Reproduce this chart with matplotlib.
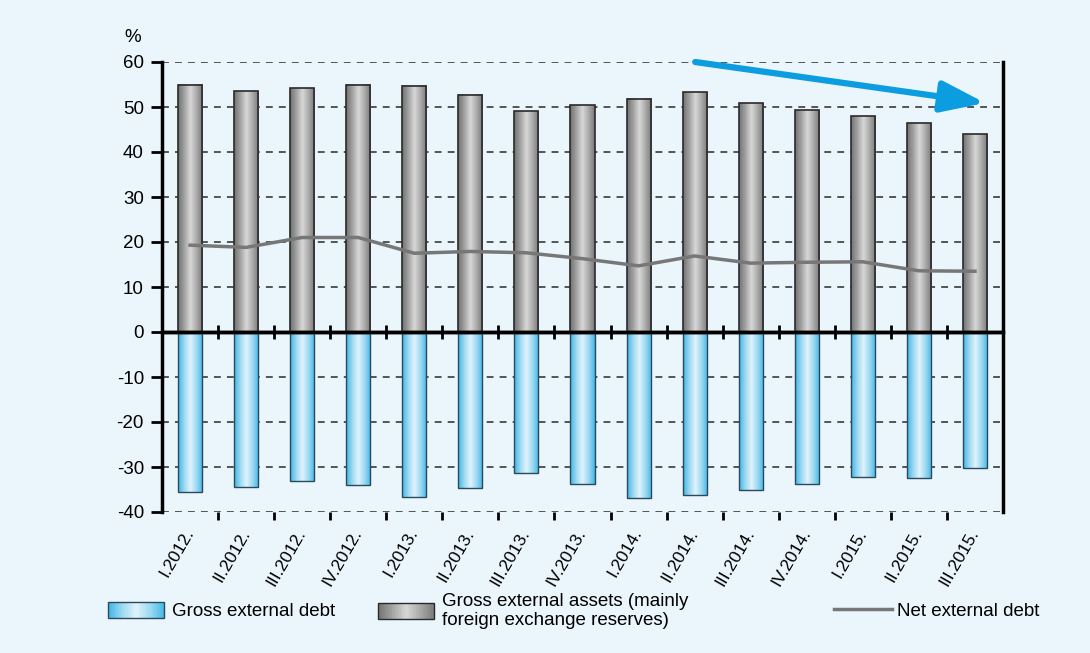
import numpy as np
import matplotlib
matplotlib.use("Agg")
import matplotlib.pyplot as plt
from matplotlib.colors import LinearSegmentedColormap
from matplotlib.legend_handler import HandlerBase
from matplotlib.patches import Rectangle
from matplotlib.lines import Line2D
from matplotlib import font_manager

categories = ["I.2012.", "II.2012.", "III.2012.", "IV.2012.",
              "I.2013.", "II.2013.", "III.2013.", "IV.2013.",
              "I.2014.", "II.2014.", "III.2014.", "IV.2014.",
              "I.2015.", "II.2015.", "III.2015."]
gross_assets = [54.9, 53.5, 54.2, 55.0, 54.7, 52.7, 49.1, 50.4,
                51.8, 53.3, 50.8, 49.3, 48.0, 46.4, 43.9]
gross_debt = [-35.5, -34.4, -33.1, -34.0, -36.7, -34.7, -31.3, -33.8,
              -36.9, -36.2, -35.1, -33.8, -32.2, -32.4, -30.2]
net_debt = [19.3, 18.8, 21.0, 21.0, 17.5, 17.9, 17.6, 16.3,
            14.7, 16.9, 15.3, 15.5, 15.6, 13.6, 13.5]
yticks = [-40, -30, -20, -10, 0, 10, 20, 30, 40, 50, 60]

names = {f.name for f in font_manager.fontManager.ttflist}
narrow = 'Liberation Sans Narrow' if 'Liberation Sans Narrow' in names else 'Liberation Sans'
plt.rcParams['font.family'] = ['Liberation Sans', 'DejaVu Sans']

BG = '#eaf5fc'
gray_cmap = LinearSegmentedColormap.from_list('g', ['#727272', '#a2a2a2', '#d8d8d8', '#aaaaaa', '#7a7a7a'])
blue_cmap = LinearSegmentedColormap.from_list('b', ['#3db5e6', '#9dd9f2', '#e0f3fc', '#9dd9f2', '#45b9e8'])

fig = plt.figure(figsize=(10.9, 6.53), dpi=100, facecolor=BG)
ax = fig.add_axes([162/1090, 1-512/653, (1003-162)/1090, (512-62)/653])
ax.set_facecolor(BG)

x = np.arange(len(categories))
w = 0.43
grad = np.linspace(0, 1, 64).reshape(1, -1)
for xi, a, d in zip(x, gross_assets, gross_debt):
    ax.imshow(grad, extent=[xi - w/2, xi + w/2, 0, a], aspect='auto', cmap=gray_cmap, zorder=2)
    ax.imshow(grad, extent=[xi - w/2, xi + w/2, d, 0], aspect='auto', cmap=blue_cmap, zorder=2)
ax.bar(x, gross_assets, width=w, facecolor='none', edgecolor='#2a2a2a', linewidth=1.2, zorder=3)
ax.bar(x, gross_debt, width=w, facecolor='none', edgecolor='#2a4a5a', linewidth=1.0, zorder=3)
ax.plot(x, net_debt, color='#777777', linewidth=2.5, zorder=4)

ax.set_xlim(-0.5, len(categories) - 0.5)
ax.set_ylim(-40, 60)
ax.set_yticks(yticks)
ax.set_yticklabels([str(v) for v in yticks], fontsize=13.5)
for v in yticks:
    if v != 0:
        ax.axhline(v, color='#2a2a2a', linewidth=1.1, dashes=(4.5, 4), zorder=1)
ax.axhline(0, color='black', linewidth=2.5, zorder=5)

ax.spines['top'].set_visible(False)
ax.spines['left'].set_linewidth(2.5)
ax.spines['right'].set_linewidth(2.5)
ax.spines['bottom'].set_position(('data', 0))
ax.spines['bottom'].set_linewidth(2.5)
ax.tick_params(axis='y', direction='out', length=8, width=2, pad=5)
bounds = np.arange(len(categories) + 1) - 0.5
ax.set_xticks(bounds[1:-1])
ax.set_xticklabels([])
ax.tick_params(axis='x', direction='inout', length=10, width=2)

sec = ax.secondary_xaxis(0)
sec.spines['bottom'].set_visible(False)
sec.set_xticks(bounds[1:-1])
sec.set_xticklabels([])
sec.tick_params(axis='x', which='major', direction='out', length=6, width=2)
sec.set_xticks(x, minor=True)
sec.set_xticklabels(categories, minor=True, rotation=60, ha='right', va='center',
                    rotation_mode='anchor', fontsize=12.5, family=[narrow, 'DejaVu Sans'])
sec.tick_params(axis='x', which='minor', length=0, pad=13)

ax.text(-0.025, 1.035, '%', transform=ax.transAxes, fontsize=13.5, ha='right', va='bottom')

ax.annotate('', xy=(14.18, 50.9), xytext=(9.01, 60),
            arrowprops=dict(arrowstyle='-|>,head_length=1.4,head_width=0.5', color='#0b9de0',
                            lw=4.5, mutation_scale=19, shrinkA=0, shrinkB=0),
            annotation_clip=False, zorder=6)


class GradHandler(HandlerBase):
    def __init__(self, cmap, edge):
        super().__init__()
        self.cmap = cmap
        self.edge = edge

    def create_artists(self, legend, orig_handle, xdescent, ydescent, width, height, fontsize, trans):
        n = 40
        arts = []
        for i in range(n):
            arts.append(Rectangle((-xdescent + width * i / n, -ydescent), width / n + 0.3, height,
                                  facecolor=self.cmap((i + 0.5) / n), edgecolor='none', transform=trans))
        arts.append(Rectangle((-xdescent, -ydescent), width, height, facecolor='none',
                              edgecolor=self.edge, linewidth=1.0, transform=trans))
        return arts


h1 = Rectangle((0, 0), 1, 1)
h2 = Rectangle((0, 0), 1, 1)
h3 = Line2D([], [], color='#777777', linewidth=2.5)
lfont = dict(family=narrow, size=13.5)
common = dict(frameon=False, borderpad=0, borderaxespad=0, loc='center left', prop=lfont,
              handleheight=1.0)
l1 = fig.legend([h1], ['Gross external debt'], bbox_to_anchor=(108/1090, 1-611/653),
                handler_map={h1: GradHandler(blue_cmap, '#2a4a5a')}, handlelength=3.0,
                handletextpad=0.4, **common)
l2 = fig.legend([h2], ['Gross external assets (mainly\nforeign exchange reserves)'],
                bbox_to_anchor=(378/1090, 1-611/653),
                handler_map={h2: GradHandler(gray_cmap, '#2a2a2a')}, handlelength=3.0,
                handletextpad=0.4, **common)
l3 = fig.legend([h3], ['Net external debt'], bbox_to_anchor=(834/1090, 1-611/653),
                handlelength=3.1, handletextpad=0.25, **common)
for t in l2.get_texts():
    t.set_linespacing(1.15)

fig.savefig('out.png', dpi=100, facecolor=BG)
